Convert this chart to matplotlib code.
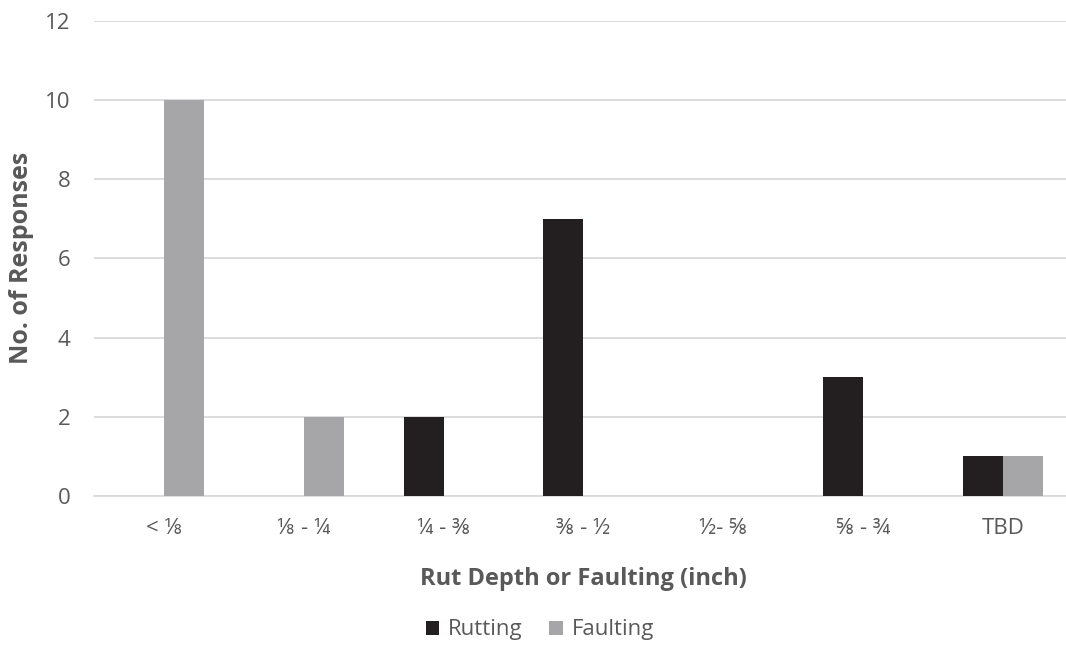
import matplotlib.pyplot as plt
import numpy as np

plt.rcParams['font.family'] = ['Open Sans', 'DejaVu Sans']

categories = ["< ⅛", "⅛ - ¼", "¼ - ⅜", "⅜ - ½", "½- ⅝", "⅝ - ¾", "TBD"]
rutting = [0, 0, 2, 7, 0, 3, 1]
faulting = [10, 2, 0, 0, 0, 0, 1]

text_color = "#595959"
grid_color = "#d9d9d9"

fig = plt.figure(figsize=(10.66, 6.46), dpi=100)
ax = fig.add_axes([0.0882, 0.2322, 0.918, 0.736])

x = np.arange(len(categories))
w = 0.286
ax.bar(x - w / 2, rutting, w, color="#231f20", label="Rutting", zorder=3)
ax.bar(x + w / 2, faulting, w, color="#a6a6a8", label="Faulting", zorder=3)

ax.set_xlim(-0.5, len(categories) - 0.5)
ax.set_ylim(0, 12)
ax.set_yticks(range(0, 13, 2))
ax.set_xticks(x)
ax.set_xticklabels(categories)
ax.tick_params(axis="both", length=0, labelsize=16, colors=text_color)
ax.tick_params(axis="x", pad=16)
ax.tick_params(axis="y", pad=17)

ax.yaxis.grid(True, color=grid_color, linewidth=1.3, zorder=0)
for side in ["top", "right", "left"]:
    ax.spines[side].set_visible(False)
ax.spines["bottom"].set_color(grid_color)
ax.spines["bottom"].set_linewidth(1.3)

ax.set_xlabel("Rut Depth or Faulting (inch)", fontsize=17, fontweight="bold",
              color=text_color, labelpad=20)
ax.set_ylabel("No. of Responses", fontsize=18, fontweight="bold",
              color=text_color, labelpad=8)

ax.legend(loc="center", bbox_to_anchor=(540 / 1066, 16 / 646),
          bbox_transform=fig.transFigure, ncol=2, frameon=False,
          fontsize=16, labelcolor=text_color, handlelength=0.6,
          handleheight=0.6, handletextpad=0.4, columnspacing=1.2)

fig.savefig("out.png", dpi=100)
